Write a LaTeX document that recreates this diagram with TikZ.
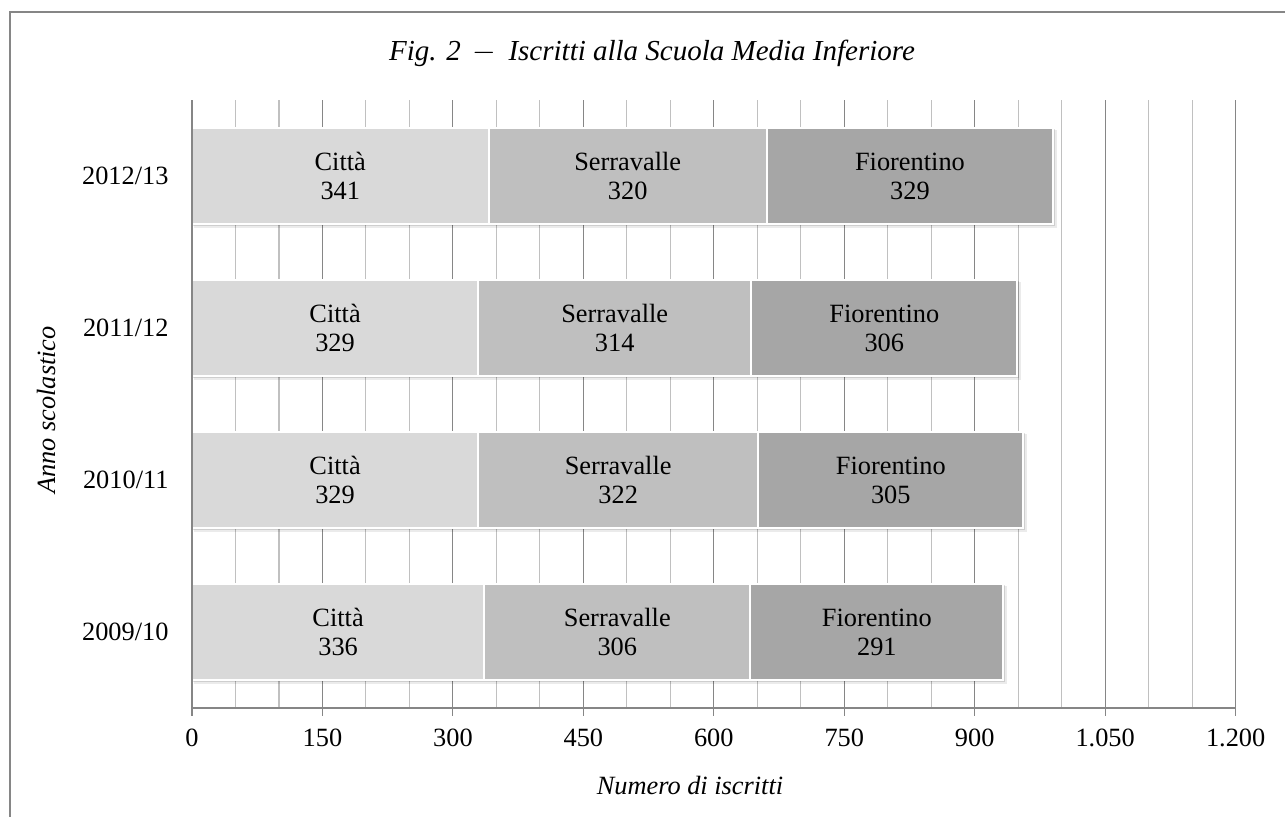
\documentclass[tikz,border=0pt]{standalone}
\usepackage{fontspec}
\setmainfont{Liberation Serif}

\definecolor{cittacol}{HTML}{D9D9D9}
\definecolor{serracol}{HTML}{BFBFBF}
\definecolor{fiorcol}{HTML}{A6A6A6}
\definecolor{majgrid}{HTML}{868686}
\definecolor{mingrid}{HTML}{C0C0C0}

\tikzset{
    seg/.style={draw=white, line width=1.1pt},
    barlabel/.style={align=center, inner sep=0pt,
        font=\fontsize{15}{16.5}\selectfont},
    ticklabel/.style={anchor=north, inner sep=0pt,
        font=\fontsize{15}{17}\selectfont},
    axtitle/.style={inner sep=0pt, font=\fontsize{15}{17}\selectfont\itshape},
}

\begin{document}
\begin{tikzpicture}[x=0.02cm, y=-0.02cm, line width=0.6pt]
    \useasboundingbox (0,0) rectangle (1285,816);
    \draw[majgrid] (10,12) rectangle (1300,840);

    % grid
    \foreach \v in {50,100,...,1200} {
        \draw[mingrid] ({192+0.8697*\v},100) -- ({192+0.8697*\v},708);
    }
    \draw[majgrid] (192,708) -- (1236,708);
    \foreach \v/\t in {0/0,150/150,300/300,450/450,600/600,750/750,900/900,1050/1.050,1200/1.200} {
        \draw[majgrid] ({192+0.8697*\v},100) -- ({192+0.8697*\v},716);
        \node[ticklabel] (tick\v) at ({192+0.8697*\v},728) {\t};
    }

    % bars
    \foreach \k/\yr/\yn/\a/\b/\c in {0/2012/13/341/320/329,1/2011/12/329/314/306,2/2010/11/329/322/305,3/2009/10/336/306/291} {
        \pgfmathsetmacro{\yc}{176+152*\k}
        \pgfmathsetmacro{\xa}{192+0.8697*\a}
        \pgfmathsetmacro{\xb}{192+0.8697*(\a+\b)}
        \pgfmathsetmacro{\xc}{192+0.8697*(\a+\b+\c)}
        \fill[black, opacity=0.08] (194,\yc-46) rectangle (\xc+4,\yc+52);
        \fill[black, opacity=0.12] (193,\yc-47) rectangle (\xc+2,\yc+50);
        \filldraw[seg, fill=cittacol] (192,\yc-48) rectangle (\xa,\yc+48);
        \filldraw[seg, fill=serracol] (\xa,\yc-48) rectangle (\xb,\yc+48);
        \filldraw[seg, fill=fiorcol] (\xb,\yc-48) rectangle (\xc,\yc+48);
        \node[barlabel] (citta\k) at ({(192+\xa)/2},\yc) {Città\\\a};
        \node[barlabel] (serra\k) at ({(\xa+\xb)/2},\yc) {Serravalle\\\b};
        \node[barlabel] (fior\k) at ({(\xb+\xc)/2},\yc) {Fiorentino\\\c};
        \node[barlabel, anchor=east] (anno\k) at (169,\yc) {\yr/\yn};
    }
    \draw[majgrid] (192,100) -- (192,708);

    % titles
    \node[axtitle, anchor=base, font=\fontsize{16.5}{18}\selectfont\itshape] (title) at (652,60)
        {Fig. 2 \,$-$\, Iscritti alla Scuola Media Inferiore};
    \node[axtitle, rotate=90] (ytitle) at (46,410) {Anno scolastico};
    \node[axtitle] (xtitle) at (690,785) {Numero di iscritti};
\end{tikzpicture}
\end{document}
